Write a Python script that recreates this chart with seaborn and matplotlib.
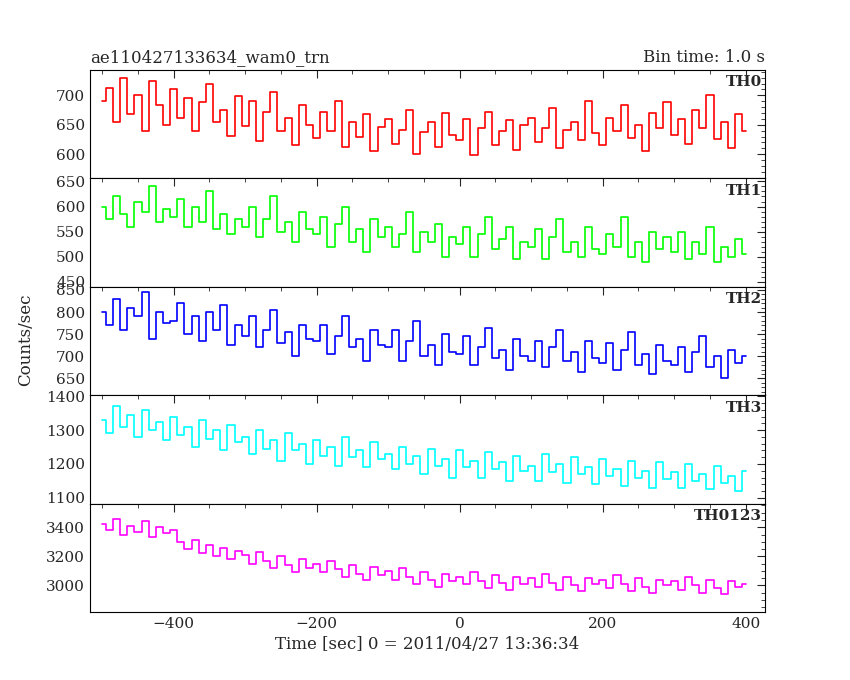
import numpy as np
import pandas as pd
import matplotlib
matplotlib.use("Agg")
import matplotlib.pyplot as plt
import seaborn as sns

# time bins (s), one value every 10 s from -500 to 400
time = list(range(-500, 401, 10))

th0 = [690,712,655,730,668,701,640,725,684,650,
       710,662,695,640,688,720,655,676,631,699,
       648,690,622,671,705,640,662,615,683,650,
       628,671,640,690,612,655,630,668,605,646,
       660,618,642,675,600,638,655,612,670,633,
       625,660,598,645,672,615,640,658,608,650,
       662,620,645,678,610,641,655,625,690,636,
       615,662,640,684,628,650,605,670,645,688,
       632,660,618,675,645,700,626,655,610,668,
       640]
th1 = [600,575,620,585,560,610,590,640,570,595,
       580,615,560,600,570,630,555,585,545,575,
       560,600,540,575,620,550,570,530,590,555,
       545,580,520,565,600,530,555,510,575,540,
       560,520,545,590,510,550,530,565,500,540,
       525,560,500,545,580,515,535,560,495,530,
       520,555,495,540,575,510,530,500,560,515,
       505,545,520,580,500,530,490,550,515,540,
       510,550,495,530,505,560,490,520,500,535,
       505]
th2 = [800,770,830,760,810,790,845,740,800,775,
       780,820,750,790,735,800,760,815,725,770,
       745,790,720,760,805,730,755,700,770,740,
       735,770,705,745,790,720,740,690,760,725,
       720,760,690,735,780,700,725,680,750,710,
       705,745,680,720,765,695,715,670,740,700,
       690,735,675,720,760,690,710,665,735,695,
       685,730,670,715,755,680,705,660,725,690,
       680,720,665,710,745,675,700,650,715,685,
       700]
th3 = [1330,1290,1370,1310,1345,1280,1360,1300,1325,1270,
       1340,1285,1310,1250,1330,1275,1300,1240,1315,1265,
       1280,1230,1300,1245,1270,1210,1290,1240,1260,1200,
       1270,1225,1250,1195,1280,1220,1240,1190,1265,1215,
       1230,1185,1250,1200,1225,1170,1245,1195,1215,1160,
       1240,1190,1210,1160,1235,1185,1205,1150,1225,1180,
       1195,1150,1230,1175,1200,1145,1220,1170,1190,1140,
       1215,1165,1185,1135,1210,1160,1180,1130,1205,1155,
       1175,1130,1200,1150,1170,1125,1195,1145,1165,1120,
       1180]
th0123 = [3420,3380,3460,3350,3410,3370,3440,3330,3400,3360,
          3380,3300,3250,3310,3220,3280,3200,3260,3180,3240,
          3210,3150,3230,3170,3120,3200,3140,3090,3180,3120,
          3150,3090,3170,3110,3060,3140,3080,3040,3130,3070,
          3100,3040,3120,3060,3010,3090,3040,2990,3080,3030,
          3060,3010,3090,3030,2980,3070,3020,2970,3060,3010,
          3050,2990,3080,3020,2970,3060,3000,2960,3050,3010,
          3040,2980,3070,3010,2960,3050,2990,2950,3040,3000,
          3030,2970,3060,3000,2950,3040,2980,2940,3030,2990,
          3010]

names = ["TH0", "TH1", "TH2", "TH3", "TH0123"]
series = [th0, th1, th2, th3, th0123]
colors = ["#ff0000", "#00ff00", "#0000ff", "#00ffff", "#ff00ff"]
ylims = [(559, 743), (440, 656), (612, 857), (1083, 1403), (2817, 3563)]
yticks = [[600, 650, 700], [450, 500, 550, 600, 650], [650, 700, 750, 800, 850],
          [1100, 1200, 1300, 1400], [3000, 3200, 3400]]

sns.set_style("white")
plt.rcParams['font.family'] = ['DejaVu Serif']

fig, axes = plt.subplots(5, 1, sharex=True, figsize=(8.5, 6.8), dpi=100)
fig.subplots_adjust(left=0.106, right=0.9, top=0.897, bottom=0.1, hspace=0)

for ax, name, vals, c, yl, yt in zip(axes, names, series, colors, ylims, yticks):
    df = pd.DataFrame({"time": time, "rate": vals})
    sns.lineplot(data=df, x="time", y="rate", ax=ax, color=c, lw=1.2,
                 drawstyle="steps-mid")
    ax.set_ylim(*yl)
    ax.set_yticks(yt)
    ax.set_xlim(-517, 427)
    ax.set_xlabel("")
    ax.set_ylabel("")
    ax.tick_params(direction="in", top=True, right=True, length=6, labelsize=11)
    ax.minorticks_on()
    ax.tick_params(which="minor", direction="in", top=True, right=True, length=3)
    for s in ax.spines.values():
        s.set_color("black")
    ax.text(0.995, 0.95, name, transform=ax.transAxes, ha="right", va="top",
            fontsize=11, fontweight="bold")

axes[-1].set_xticks([-400, -200, 0, 200, 400])
axes[-1].set_xlabel("Time [sec] 0 = 2011/04/27 13:36:34", fontsize=12)
fig.text(0.02, 0.5, "Counts/sec", rotation=90, va="center", fontsize=12)
axes[0].set_title("ae110427133634_wam0_trn", loc="left", fontsize=12)
axes[0].set_title("Bin time: 1.0 s", loc="right", fontsize=12)

fig.savefig("out.png")
